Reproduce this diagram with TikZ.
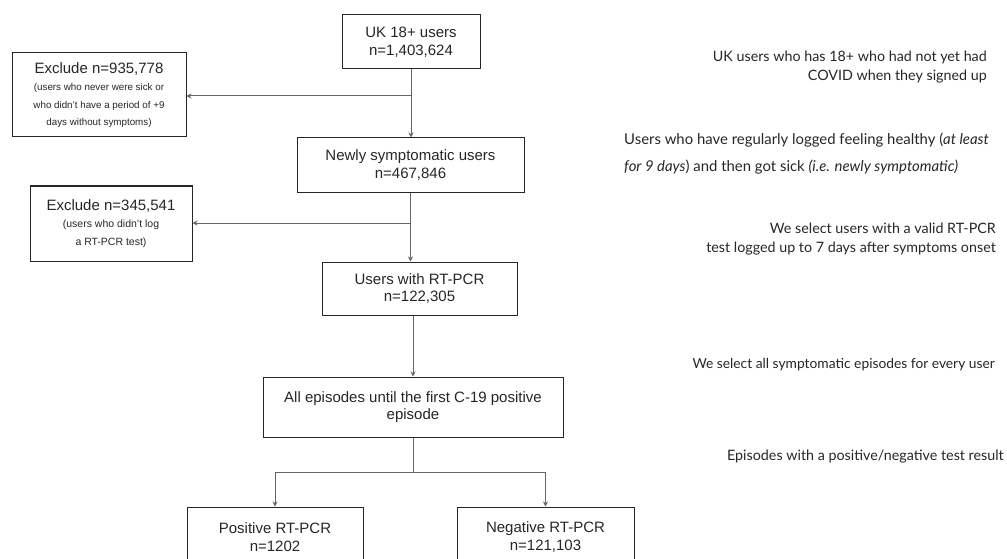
\documentclass[tikz,border=0pt]{standalone}
\usepackage{fontspec}
\setmainfont{Liberation Sans}
\newfontfamily\lato{Lato}
\usetikzlibrary{arrows.meta}
\newcommand\smtxt{\fontsize{9.8}{12}\selectfont}
\newcommand\smtxtb{\fontsize{10.5}{11.5}\selectfont}
\begin{document}
\begin{tikzpicture}[x=1pt,y=-1pt,
  box/.style={draw=black!85, line width=1pt, align=center, inner sep=0pt, text=black!85,
    font=\fontsize{15}{17.5}\selectfont},
  conn/.style={draw=black!60, line width=1pt},
  arr/.style={conn, -{Stealth[length=5pt,width=5pt]}},
  note/.style={font=\lato\fontsize{14.3}{19}\selectfont, inner sep=0pt, text=black!85}]
\clip (0,0) rectangle (1007,559);
\useasboundingbox (0,0) rectangle (1007,559);

% boxes
\node[box, minimum width=138, minimum height=54] (uk) at (411,42) {UK 18+ users\\n=1,403,624};
\node[box, minimum width=174, minimum height=84] (ex1) at (99,95)
  {Exclude n=935,778\\\smtxt (users who never were sick or\\\smtxt who didn't have a period of +9\\\smtxt days without symptoms)};
\node[box, minimum width=227, minimum height=54] (nsym) at (410.5,165) {Newly symptomatic users\\n=467,846};
\node[box, minimum width=162, minimum height=75] (ex2) at (111,223.5)
  {Exclude n=345,541\\\smtxtb (users who didn't log\\\smtxtb a RT-PCR test)};
\node[box, minimum width=195, minimum height=53] (users) at (419.5,288.5) {Users with RT-PCR\\n=122,305};
\node[box, minimum width=300, minimum height=60] (all) at (413,407) {All episodes until the first C-19 positive\\episode};
\node[box, minimum width=176, minimum height=60] (pos) at (275,537) {Positive RT-PCR\\n=1202};
\node[box, minimum width=177, minimum height=60] (neg) at (545.5,537) {Negative RT-PCR\\n=121,103};

% connectors
\coordinate (j1) at (411,96);
\coordinate (j2) at (411,223);
\coordinate (j3) at (413,472);
\draw[arr] (uk.south) -- (uk.south |- nsym.north);
\draw[arr] (j1) -- (j1 -| ex1.east);
\draw[arr] (nsym.south) -- (nsym.south |- users.north);
\draw[arr] (j2) -- (j2 -| ex2.east);
\draw[arr] (users.south -| all.north) -- (all.north);
\draw[conn] (all.south) -- (j3);
\draw[arr] (j3) -| (pos.north);
\draw[arr] (j3) -| (neg.north);

% notes
\node[note, align=right, anchor=east] (n1) at (987,67.5)
  {UK users who has 18+ who had not yet had\\COVID when they signed up};
\node[note, align=left, anchor=west, font=\lato\fontsize{14.9}{27}\selectfont] (n2) at (624,153.5)
  {Users who have regularly logged feeling healthy (\textit{at least}\\\textit{for 9 days}) and then got sick \textit{(i.e. newly symptomatic)}};
\node[note, align=right, anchor=east] (n3) at (996,239.5)
  {We select users with a valid RT-PCR\\test logged up to 7 days after symptoms onset};
\node[note, anchor=east, font=\lato\fontsize{13.8}{19}\selectfont] (n4) at (995,365) {We select all symptomatic episodes for every user};
\node[note, anchor=east] (n5) at (1004,457) {Episodes with a positive/negative test result};
\end{tikzpicture}
\end{document}
